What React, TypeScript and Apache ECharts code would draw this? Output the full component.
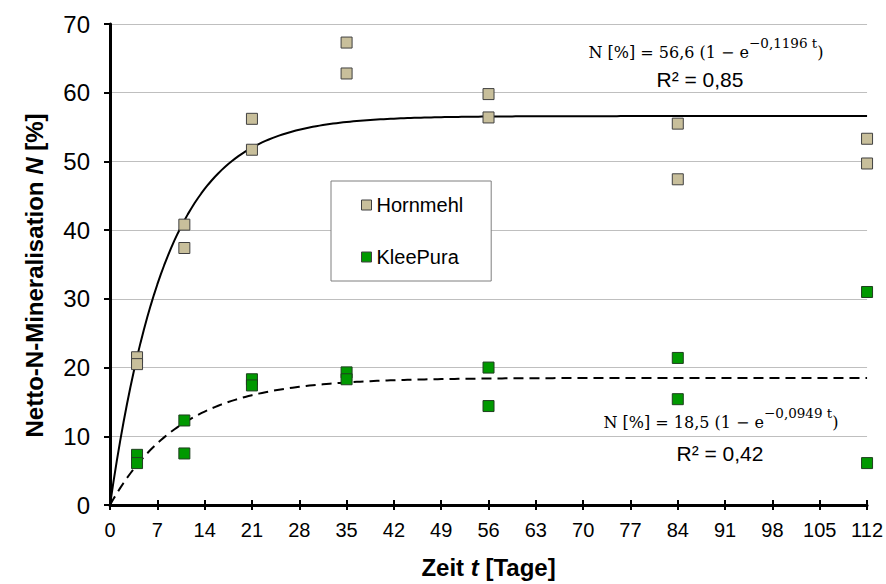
import React, { useEffect, useRef } from "react";
import * as echarts from "echarts";

// Sampling days and measured net N mineralisation (two replicates per day)
const days = [4, 11, 21, 35, 56, 84, 112];
const hornmehlRep1 = [21.5, 40.8, 56.2, 67.3, 59.8, 55.5, 53.3];
const hornmehlRep2 = [20.5, 37.4, 51.7, 62.8, 56.4, 47.4, 49.7];
const kleePuraRep1 = [7.3, 12.3, 18.3, 19.3, 20.0, 21.4, 31.0];
const kleePuraRep2 = [6.1, 7.5, 17.4, 18.3, 14.4, 15.4, 6.1];

// Fitted first-order kinetics N = N0 (1 - e^(-k t))
const hornmehlFit = { n0: 56.6, k: 0.1196 };
const kleePuraFit = { n0: 18.5, k: 0.0949 };

const xTicks = { min: 0, max: 112, interval: 7 };
const yTicks = { min: 0, max: 70, interval: 10 };

const FONT = "'Liberation Sans', Arial, sans-serif";
const SERIF = "'DejaVu Serif', 'Liberation Serif', serif";

const pairs = (xs: number[], a: number[], b: number[]) => {
  const out: number[][] = [];
  xs.forEach((x, i) => {
    out.push([x, a[i]]);
    out.push([x, b[i]]);
  });
  return out;
};

const fitCurve = (fit: { n0: number; k: number }) => {
  const pts: number[][] = [];
  for (let t = 0; t <= xTicks.max; t += 0.5) {
    pts.push([t, fit.n0 * (1 - Math.exp(-fit.k * t))]);
  }
  return pts;
};

const eqRich = {
  m: { fontFamily: SERIF, fontSize: 16, lineHeight: 24, verticalAlign: "bottom", fill: "#000" },
  s: { fontFamily: SERIF, fontSize: 13.5, lineHeight: 13, verticalAlign: "top", fill: "#000" },
};

const titleRich = {
  b: { fontFamily: FONT, fontSize: 24, fontWeight: "bold", color: "#000" },
  i: { fontFamily: FONT, fontSize: 24, fontWeight: "bold", fontStyle: "italic", color: "#000" },
};

export default function App() {
  const ref = useRef<HTMLDivElement>(null);

  useEffect(() => {
    if (!ref.current) return;
    const chart = echarts.init(ref.current, undefined, { renderer: "svg" });

    chart.setOption({
      animation: false,
      backgroundColor: "#fff",
      textStyle: { fontFamily: FONT },
      grid: { left: 110, right: 13, top: 24, bottom: 77 },
      legend: {
        orient: "vertical",
        left: 331,
        top: 181,
        padding: [14, 28, 14, 30],
        itemGap: 32,
        itemWidth: 10,
        itemHeight: 10,
        icon: "rect",
        backgroundColor: "#fff",
        borderColor: "#7f7f7f",
        borderWidth: 1,
        textStyle: { fontFamily: FONT, fontSize: 20, color: "#000", lineHeight: 20 },
        itemStyle: { borderColor: "#404040", borderWidth: 1 },
        data: ["Hornmehl", "KleePura"],
      },
      xAxis: [
        {
          type: "value",
          min: xTicks.min,
          max: xTicks.max,
          interval: xTicks.interval,
          name: "{b|Zeit }{i|t}{b| [Tage]}",
          nameLocation: "middle",
          nameGap: 50,
          nameTextStyle: { rich: titleRich },
          axisLine: { lineStyle: { color: "#000", width: 3 } },
          axisTick: { length: 5, lineStyle: { color: "#000", width: 2 } },
          axisLabel: { fontFamily: FONT, fontSize: 20, color: "#000", margin: 15 },
          splitLine: { show: false },
        },
        {
          // inner half of the crossing tick marks on the time axis
          type: "value",
          position: "bottom",
          min: xTicks.min,
          max: xTicks.max,
          interval: xTicks.interval,
          axisLine: { show: false },
          axisTick: { show: true, inside: true, length: 5, lineStyle: { color: "#000", width: 2 } },
          axisLabel: { show: false },
          splitLine: { show: false },
        },
      ],
      yAxis: {
        type: "value",
        min: yTicks.min,
        max: yTicks.max,
        interval: yTicks.interval,
        name: "{b|Netto-N-Mineralisation }{i|N}{b| [%]}",
        nameLocation: "middle",
        nameGap: 64,
        nameTextStyle: { rich: titleRich, padding: [0, 22, 0, 0] },
        axisLine: { show: true, lineStyle: { color: "#000", width: 3 } },
        axisTick: { show: true, length: 6, lineStyle: { color: "#000", width: 2 } },
        axisLabel: { fontFamily: FONT, fontSize: 24, color: "#000", margin: 20 },
        splitLine: { lineStyle: { color: "#bfbfbf", width: 1 } },
      },
      series: [
        {
          name: "Hornmehl Fit",
          type: "line",
          data: fitCurve(hornmehlFit),
          showSymbol: false,
          symbol: "none",
          lineStyle: { color: "#000", width: 2 },
          z: 2,
          silent: true,
        },
        {
          name: "KleePura Fit",
          type: "line",
          data: fitCurve(kleePuraFit),
          showSymbol: false,
          symbol: "none",
          lineStyle: { color: "#000", width: 2, type: [10, 6] },
          z: 2,
          silent: true,
        },
        {
          name: "Hornmehl",
          type: "scatter",
          data: pairs(days, hornmehlRep1, hornmehlRep2),
          symbol: "rect",
          symbolSize: 11,
          itemStyle: { color: "#c8bf9b", borderColor: "#404040", borderWidth: 1, opacity: 1 },
          z: 5,
        },
        {
          name: "KleePura",
          type: "scatter",
          data: pairs(days, kleePuraRep1, kleePuraRep2),
          symbol: "rect",
          symbolSize: 11,
          itemStyle: { color: "#009900", borderColor: "#1f3f1f", borderWidth: 1, opacity: 1 },
          z: 5,
        },
      ],
      graphic: [
        {
          type: "text",
          x: 706,
          y: 48,
          z: 10,
          style: {
            text: `{m|N [%] = 56,6 (1 − e}{s|−0,1196 t}{m|)}`,
            rich: eqRich,
            align: "center",
            verticalAlign: "middle",
          },
        },
        {
          type: "text",
          x: 700,
          y: 79,
          z: 10,
          style: {
            text: "R² = 0,85",
            fontFamily: FONT,
            fontSize: 21,
            fill: "#000",
            align: "center",
            verticalAlign: "middle",
          },
        },
        {
          type: "text",
          x: 721,
          y: 418,
          z: 10,
          style: {
            text: `{m|N [%] = 18,5 (1 − e}{s|−0,0949 t}{m|)}`,
            rich: eqRich,
            align: "center",
            verticalAlign: "middle",
          },
        },
        {
          type: "text",
          x: 720,
          y: 453,
          z: 10,
          style: {
            text: "R² = 0,42",
            fontFamily: FONT,
            fontSize: 21,
            fill: "#000",
            align: "center",
            verticalAlign: "middle",
          },
        },
      ],
    });

    return () => chart.dispose();
  }, []);

  return (
    <div
      ref={ref}
      style={{ position: "absolute", left: 0, top: 0, width: 886, height: 584 }}
    />
  );
}
